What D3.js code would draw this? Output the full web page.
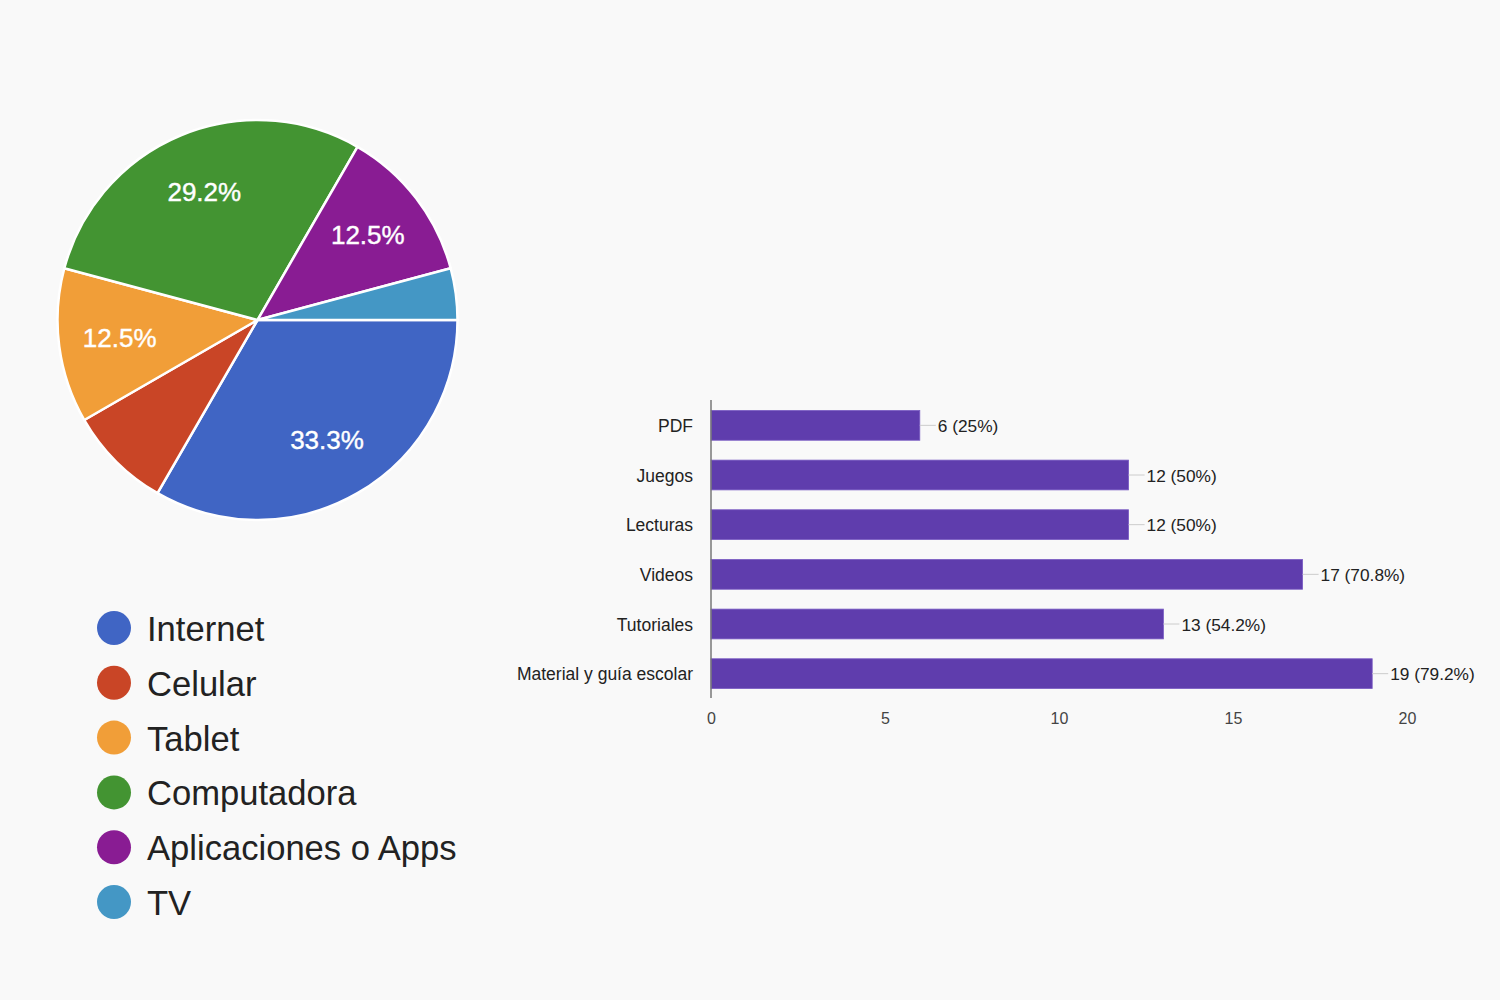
<!DOCTYPE html>
<html><head><meta charset="utf-8">
<script src="https://cdn.jsdelivr.net/npm/d3@7"></script>
<style>
html,body{margin:0;padding:0;background:#f9f9f9;}
svg{display:block;font-family:"Liberation Sans",Arial,sans-serif;}
</style></head>
<body>
<svg id="c" width="1500" height="1000"></svg>
<script>
const pieCategories = ["Internet","Celular","Tablet","Computadora","Aplicaciones o Apps","TV"];
const pieValues = [8,2,3,7,3,1];
const pieColors = ["#4065c4","#c94526","#f19e38","#439432","#891c93","#4497c5"];

const barCategories = ["PDF","Juegos","Lecturas","Videos","Tutoriales","Material y guía escolar"];
const barValues = [6,12,12,17,13,19];
const barLabels = ["6 (25%)","12 (50%)","12 (50%)","17 (70.8%)","13 (54.2%)","19 (79.2%)"];
const xTicks = [0,5,10,15,20];

const svg = d3.select("#c");
svg.append("rect").attr("width",1500).attr("height",1000).attr("fill","#f9f9f9");

// ---- Pie ----
const total = d3.sum(pieValues);
const R = 200;
const pg = svg.append("g").attr("transform","translate(257.5,320)");
const pie = d3.pie().sort(null).value(d=>d).startAngle(Math.PI/2).endAngle(Math.PI/2+2*Math.PI);
const arcs = pie(pieValues);
const arc = d3.arc().innerRadius(0).outerRadius(R);
const labelArc = d3.arc().innerRadius(139).outerRadius(139);
pg.selectAll("path").data(arcs).join("path")
  .attr("d",arc).attr("fill",(d,i)=>pieColors[i])
  .attr("stroke","#ffffff").attr("stroke-width",2.5).attr("stroke-linejoin","round");
pg.selectAll("text").data(arcs.filter(d=>d.value/total>0.1)).join("text")
  .attr("transform",d=>`translate(${labelArc.centroid(d)})`)
  .attr("text-anchor","middle").attr("dominant-baseline","central")
  .attr("fill","#ffffff").attr("font-size",26).attr("stroke","#ffffff").attr("stroke-width",0.4)
  .text(d=>(d.value/total*100).toFixed(1)+"%");

// ---- Legend ----
const ly = d3.scalePoint().domain(pieCategories).range([628,902]);
const lg = svg.append("g");
const li = lg.selectAll("g").data(pieCategories).join("g")
  .attr("transform",d=>`translate(114,${ly(d)})`);
li.append("circle").attr("r",17).attr("fill",(d,i)=>pieColors[i]);
li.append("text").attr("x",33).attr("dominant-baseline","central").attr("y",1)
  .attr("font-size",34.6).attr("fill","#222").text(d=>d);

// ---- Bars ----
const x = d3.scaleLinear().domain([0,20]).range([711,1407]);
const y = d3.scaleBand().domain(barCategories).range([400,698]).paddingInner(0.4).paddingOuter(0.2);
const bg = svg.append("g");
bg.selectAll("rect.bar").data(barValues).join("rect").attr("class","bar")
  .attr("x",x(0)).attr("y",(d,i)=>y(barCategories[i])+0.5)
  .attr("width",d=>x(d)-x(0)).attr("height",y.bandwidth())
  .attr("fill","#5f3dad").attr("stroke","#7a5cc4").attr("stroke-width",0.8);
bg.selectAll("line.lead").data(barValues).join("line").attr("class","lead")
  .attr("x1",d=>x(d)).attr("x2",d=>x(d)+16)
  .attr("y1",(d,i)=>y(barCategories[i])+y.bandwidth()/2+0.5)
  .attr("y2",(d,i)=>y(barCategories[i])+y.bandwidth()/2+0.5)
  .attr("stroke","#cccccc").attr("stroke-width",1);
bg.selectAll("text.val").data(barValues).join("text").attr("class","val")
  .attr("x",d=>x(d)+18).attr("y",(d,i)=>y(barCategories[i])+y.bandwidth()/2+1)
  .attr("dominant-baseline","central").attr("font-size",17.3).attr("fill","#222")
  .text((d,i)=>barLabels[i]);
bg.selectAll("text.cat").data(barCategories).join("text").attr("class","cat")
  .attr("x",693).attr("y",d=>y(d)+y.bandwidth()/2+1)
  .attr("text-anchor","end").attr("dominant-baseline","central")
  .attr("font-size",17.5).attr("fill","#222").text(d=>d);
// axis line
bg.append("line").attr("x1",x(0)).attr("x2",x(0)).attr("y1",400).attr("y2",698)
  .attr("stroke","#777").attr("stroke-width",1.5);
// x ticks
const xa = d3.axisBottom(x).tickValues(xTicks).tickSize(0).tickPadding(0);
const xg = bg.append("g").attr("transform","translate(0,718)").call(xa);
xg.select(".domain").remove();
xg.selectAll("text").attr("dy",null).attr("dominant-baseline","central")
  .attr("font-size",16).attr("fill","#444").attr("font-family","'Liberation Sans',Arial,sans-serif");
</script>
</body></html>
